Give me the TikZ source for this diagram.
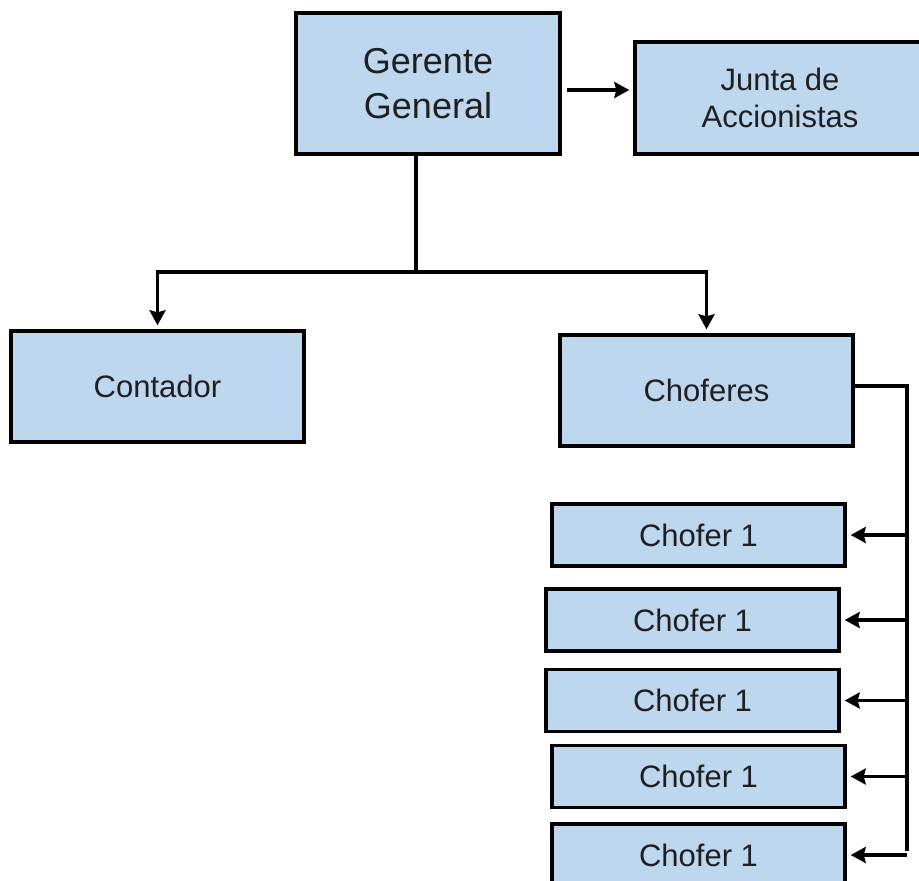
\documentclass[tikz,border=0pt]{standalone}
\usepackage{fontspec}
\setmainfont{Liberation Sans}
\usetikzlibrary{positioning,calc,arrows.meta}
\definecolor{BoxFill}{RGB}{189,215,238}
\tikzset{org layout/.style={%
    y=-1pt,
    x=1pt
}}
\tikzset{org box/.style={%
    draw=black, fill=BoxFill, line width=3.4pt, rectangle,
    inner sep=0pt, align=center, text=black!88,
    font=\fontsize{31}{37}\selectfont
}}
\tikzset{org line/.style={%
    draw=black, line width=3.6pt
}}
\tikzset{org arrow/.style={%
    org line, shorten >=4pt, -{Stealth[length=15pt,width=16pt,inset=2pt]}
}}

\begin{document}
\begin{tikzpicture}[org layout]
            \useasboundingbox (0,0) rectangle (919,881);

            \node (gerente) at (428,83.5) [org box, minimum width=264pt, minimum height=141pt,
                font=\fontsize{36}{45}\selectfont] {Gerente\\General};
            \node (junta) at (780,98) [org box, minimum width=290pt, minimum height=112pt] {Junta de\\Accionistas};
            \node (contador) at (157.5,386.5) [org box, minimum width=293pt, minimum height=111pt] {Contador};
            \node (choferes) at (706.5,390.5) [org box, minimum width=293pt, minimum height=111pt] {Choferes};

            \foreach \i/\x/\y in {1/698.5/535, 2/692.5/620, 3/692.5/700.5, 4/698.5/776.5, 5/698.5/855} {
                \node (chofer\i) at (\x,\y) [org box, minimum width=293pt, minimum height=62pt] {Chofer 1};
            }

            \coordinate (bus) at (416,272);
            \coordinate (rbus) at (907,851);

            \draw[org arrow, shorten <=5pt] (gerente.east |- 0,90) -- (junta.west |- 0,90);
            \draw[org line] (bus |- gerente.south) -- (bus);
            \draw[org arrow] (bus) -| (contador.north);
            \draw[org arrow] (bus) -| (choferes.north);
            \draw[org line] (choferes.east |- 0,386) -| (rbus);

            \foreach \i in {1,...,5} {
                \draw[org arrow] (rbus |- chofer\i.east) -- (chofer\i.east);
            }
        \end{tikzpicture}
\end{document}
